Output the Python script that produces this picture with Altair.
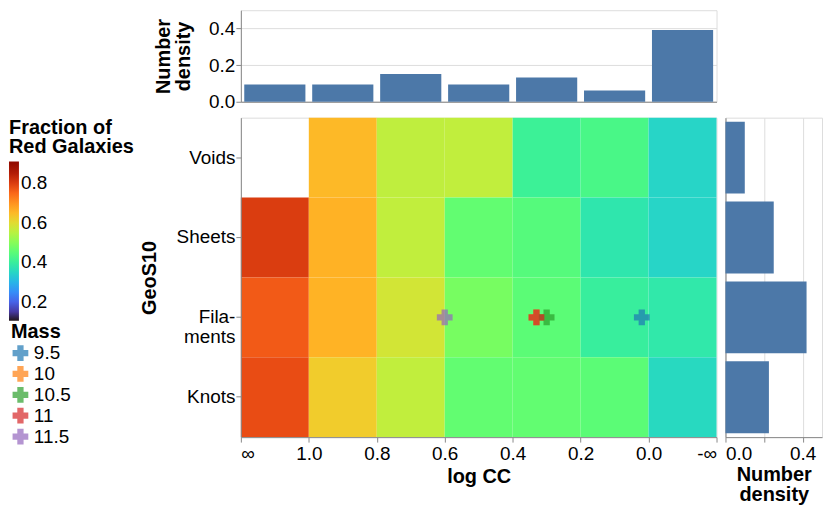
import altair as alt
import pandas as pd

# ---- data ----
bin_lo = [1.2, 1.0, 0.8, 0.6, 0.4, 0.2, 0.0]
bin_hi = [1.0, 0.8, 0.6, 0.4, 0.2, 0.0, -0.2]
bin_names = ["inf-1.0", "1.0-0.8", "0.8-0.6", "0.6-0.4", "0.4-0.2", "0.2-0.0", "0.0-minf"]
envs = ["Voids", "Sheets", "Filaments", "Knots"]

frac_voids = [None, 0.650, 0.559, 0.561, 0.407, 0.427, 0.347]
frac_sheets = [0.801, 0.660, 0.561, 0.459, 0.443, 0.379, 0.347]
frac_filaments = [0.765, 0.658, 0.580, 0.483, 0.451, 0.399, 0.383]
frac_knots = [0.781, 0.624, 0.561, 0.459, 0.459, 0.451, 0.355]

top_density = [0.094, 0.094, 0.152, 0.094, 0.132, 0.061, 0.392]
right_density = [0.10, 0.25, 0.42, 0.225]

mass_labels = ["9.5", "10", "10.5", "11", "11.5"]
mass_logcc = [0.02, 0.33, 0.30, 0.33, 0.60]
mass_env = ["Filaments", "Filaments", "Filaments", "Filaments", "Filaments"]

# ---- tables ----
rows = []
for env, fr in zip(envs, [frac_voids, frac_sheets, frac_filaments, frac_knots]):
    for lo, hi, f in zip(bin_lo, bin_hi, fr):
        if f is not None:
            rows.append({"env": env, "lo": lo, "hi": hi, "frac": f})
heat_df = pd.DataFrame(rows)
top_df = pd.DataFrame({"bin": bin_names, "density": top_density})
right_df = pd.DataFrame({"env": envs, "density": right_density})
mass_df = pd.DataFrame({"Mass": mass_labels, "logcc": mass_logcc, "env": mass_env})

LBL = 19
TTL = 20
W = 478

x_scale = alt.Scale(domain=[-0.2, 1.2], reverse=True, nice=False, zero=False)
y_heat = alt.Y("env:N", sort=envs,
               scale=alt.Scale(paddingInner=0, paddingOuter=0),
               axis=alt.Axis(title="GeoS10", labelFontSize=LBL, titleFontSize=TTL,
                             titlePadding=17, labelPadding=1, labelLineHeight=20,
                             labelExpr="datum.value == 'Filaments' ? ['Fila-', 'ments'] : datum.value"))

rects = alt.Chart(heat_df).mark_rect().encode(
    x=alt.X("lo:Q", scale=x_scale,
            axis=alt.Axis(title="log CC", grid=False, values=[1.2, 1.0, 0.8, 0.6, 0.4, 0.2, 0.0, -0.2],
                          labelExpr="datum.value > 1.1 ? '∞' : (datum.value < -0.1 ? '-∞' : format(datum.value, '.1f'))",
                          labelFontSize=LBL, titleFontSize=TTL, titlePadding=4)),
    x2="hi:Q",
    y=y_heat,
    color=alt.Color("frac:Q",
                    scale=alt.Scale(scheme="turbo", domain=[0.105, 0.91]),
                    legend=alt.Legend(title=["Fraction of", "Red Galaxies"], orient="left",
                                      values=[0.2, 0.4, 0.6, 0.8], format=".1f",
                                      gradientLength=160, gradientThickness=10,
                                      labelFontSize=LBL, titleFontSize=TTL, titleLineHeight=20,
                                      titlePadding=4, offset=4)),
)

points = alt.Chart(mass_df).mark_point(shape="cross", filled=True, size=250, opacity=0.7).encode(
    x=alt.X("logcc:Q", scale=x_scale),
    y=alt.Y("env:N", sort=envs),
    color=alt.Color("Mass:N", sort=mass_labels,
                    scale=alt.Scale(domain=mass_labels, scheme="category10"),
                    legend=alt.Legend(title="Mass", orient="none", direction="vertical",
                                      legendX=-231, legendY=205,
                                      symbolType="cross", rowPadding=1, titlePadding=2,
                                      symbolSize=250, symbolOpacity=0.7,
                                      labelFontSize=LBL, titleFontSize=TTL)),
)

heat = alt.layer(rects, points).resolve_scale(color="independent").properties(width=W, height=321)

top = alt.Chart(top_df).mark_bar(color="#4c78a8").encode(
    x=alt.X("bin:N", sort=bin_names,
            scale=alt.Scale(paddingInner=0.1, paddingOuter=0.05),
            axis=alt.Axis(labels=False, ticks=False, title=None)),
    y=alt.Y("density:Q", scale=alt.Scale(domain=[0, 0.5], nice=False),
            axis=alt.Axis(values=[0, 0.2, 0.4], format=".1f", title=["Number", "density"],
                          labelFontSize=LBL, titleFontSize=TTL, titleLineHeight=20,
                          titlePadding=15, labelPadding=1)),
).properties(width=W, height=92)

right = alt.Chart(right_df).mark_bar(color="#4c78a8").encode(
    y=alt.Y("env:N", sort=envs,
            scale=alt.Scale(paddingInner=0.1, paddingOuter=0.05),
            axis=alt.Axis(labels=False, ticks=False, title=None)),
    x=alt.X("density:Q", scale=alt.Scale(domain=[0, 0.5], nice=False),
            axis=alt.Axis(values=[0, 0.2, 0.4], format=".1f", title=["Number", "density"],
                          labelFontSize=LBL, titleFontSize=TTL, titleLineHeight=20,
                          titlePadding=2)),
).properties(width=97, height=321)

chart = alt.vconcat(
    top,
    alt.hconcat(heat, right, spacing=7),
    spacing=4,
    padding=0,
).configure(font="Liberation Sans").configure_axis(
    labelColor="#000", titleColor="#000"
).configure_legend(labelColor="#000", titleColor="#000")

chart.save("out.html", embed_options={"renderer": "svg", "actions": False})
